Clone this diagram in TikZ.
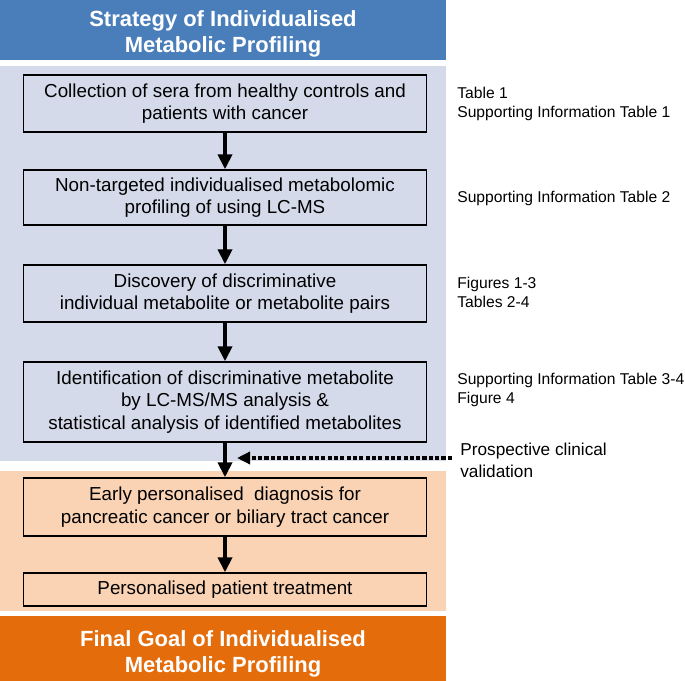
\documentclass[tikz,border=0pt]{standalone}
\usepackage{fontspec}
\setmainfont{Liberation Sans}
\usetikzlibrary{arrows.meta}

\definecolor{bandblue}{HTML}{4A7EBB}
\definecolor{panelblue}{HTML}{D4DAEA}
\definecolor{panelorange}{HTML}{FAD3B4}
\definecolor{bandorange}{HTML}{E46C0A}

\tikzset{
  stepbox/.style={draw=black,line width=0.8pt,minimum width=80.6mm,align=center,
    inner sep=0pt,font=\fontsize{10.7}{12.8}\selectfont},
  title/.style={align=center,text=white,font=\fontsize{12.5}{14.8}\selectfont\bfseries},
  note/.style={anchor=west,align=left,inner sep=0pt,font=\fontsize{8.9}{10.8}\selectfont},
  flow/.style={line width=2.2pt,-{Triangle[length=3mm,width=2.8mm]}}
}

\begin{document}
\begin{tikzpicture}[x=0.2mm,y=-0.2mm]
\useasboundingbox (0,0) rectangle (685,681);
% panels
\fill[bandblue] (0,0) rectangle (446,60);
\fill[panelblue] (0,66) rectangle (446,461);
\fill[panelorange] (0,471) rectangle (446,611);
\fill[bandorange] (0,616) rectangle (446,681);
\node[title] (top) at (223,34) {Strategy of Individualised\\Metabolic Profiling};
\node[title] (goal) at (223,654) {Final Goal of Individualised\\Metabolic Profiling};

% flow boxes
\node[stepbox,minimum height=11.4mm] (sera) at (225,103.5) {Collection of sera from healthy controls and\\patients with cancer};
\node[stepbox,minimum height=11mm] (profil) at (225,197.5) {Non-targeted individualised metabolomic\\profiling of using LC-MS};
\node[stepbox,minimum height=11.4mm] (discov) at (225,293.5) {Discovery of discriminative\\individual metabolite or metabolite pairs};
\node[stepbox,minimum height=16mm] (ident) at (225,402) {Identification of discriminative metabolite\\by LC-MS/MS analysis \&\\statistical analysis of identified metabolites};
\node[stepbox,minimum height=11.6mm] (diagn) at (225,507) {Early personalised~ diagnosis for\\pancreatic cancer or biliary tract cancer};
\node[stepbox,minimum height=6.6mm] (treat) at (225,589.5) {Personalised patient treatment};

\draw[flow] (sera) -- (profil);
\draw[flow] (profil) -- (discov);
\draw[flow] (discov) -- (ident);
\draw[flow] (ident) -- (diagn);
\draw[flow] (diagn) -- (treat);

% references
\node[note] (ref1) at (457,104) {Table 1\\Supporting Information Table 1};
\node[note] (ref2) at (457,198) {Supporting Information Table 2};
\node[note] (ref3) at (457,292) {Figures 1-3\\Tables 2-4};
\node[note] (ref4) at (457,390) {Supporting Information Table 3-4\\Figure 4};
\node[note,font=\fontsize{9.8}{12.6}\selectfont] (valid) at (460,460) {Prospective clinical\\validation};

\coordinate (tip) at (237,458);
\draw[line width=2pt,dash pattern=on 2.4pt off 1.2pt,-{Triangle[length=2.6mm,width=2.4mm]}]
  (valid.west |- tip) ++(-8,0) -- (tip);
\end{tikzpicture}
\end{document}
